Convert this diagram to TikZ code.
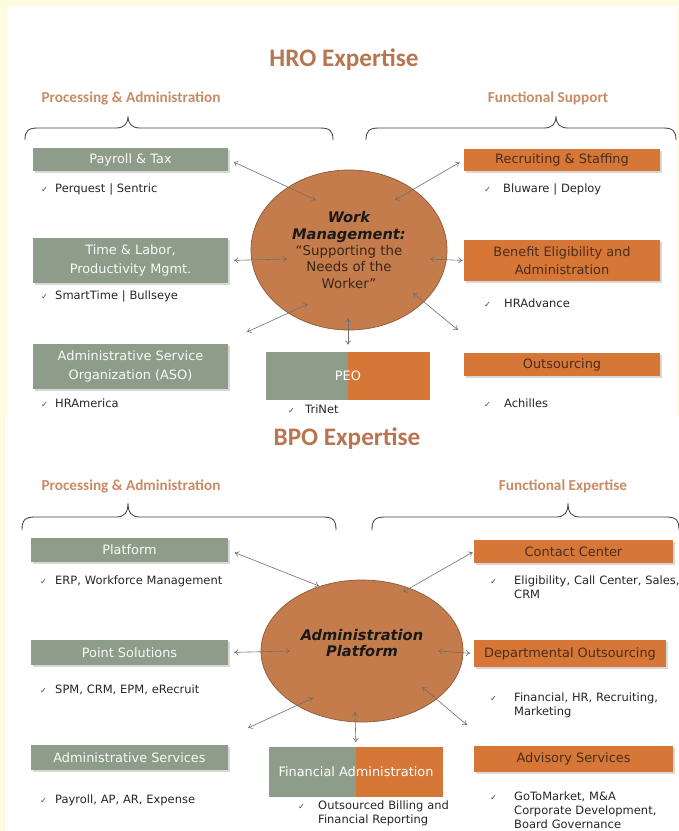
\documentclass[tikz,border=0pt]{standalone}
\usepackage{fontspec}
\setmainfont{DejaVu Sans}
\newfontfamily\headfont{Carlito}
\usetikzlibrary{shapes.geometric,shadows,arrows.meta}

\definecolor{paper}{HTML}{FFFBE0}
\definecolor{sage}{HTML}{8E9C8A}
\definecolor{rust}{HTML}{D67637}
\definecolor{clay}{HTML}{C47C4C}
\definecolor{clayline}{HTML}{8C5A3A}
\definecolor{headbrown}{HTML}{B87650}
\definecolor{subbrown}{HTML}{C88C64}
\definecolor{darkbrown}{HTML}{4A2E1C}
\definecolor{linkgray}{HTML}{6E6E6E}

% tick mark, a ticked entry (width of the tick column, text) and the indent of its next lines
\newcommand{\ck}{{\fontsize{7}{8}\selectfont\color{black!70}✓}}
\newcommand{\tk}[2]{\makebox[#1][l]{\ck}#2}
\newcommand{\tkpad}[1]{\hspace*{#1}}
\newcommand{\hubbold}{\fontsize{12.5}{14}\selectfont\bfseries\itshape\color{black!90}}

\begin{document}
\begin{tikzpicture}[x=0.03cm,y=-0.03cm,
    leftbox/.style={rectangle,inner sep=0pt,align=center,font=\fontsize{11}{15.5}\selectfont,
      fill=sage,text=white!94!sage,drop shadow={shadow xshift=1.6pt,shadow yshift=-1.6pt,opacity=0.3}},
    rightbox/.style={leftbox,fill=rust,text=darkbrown},
    splitbox/.style={rectangle,inner sep=0pt,align=center,font=\fontsize{11}{15.5}\selectfont,text=white,
      path picture={\fill[sage] (path picture bounding box.south west) rectangle (path picture bounding box.north);
        \fill[rust] (path picture bounding box.north) rectangle (path picture bounding box.south east);}},
    hub/.style={ellipse,inner sep=0pt,fill=clay,draw=clayline,line width=0.6pt,align=center,
      font=\fontsize{11.4}{14}\selectfont,text=darkbrown!80!black},
    tickitem/.style={anchor=base west,inner sep=0pt,text width=6cm,align=left,
      font=\fontsize{9.8}{12.3}\selectfont,text=black!85},
    headtitle/.style={font=\headfont\bfseries\fontsize{21.5}{24}\selectfont,text=headbrown},
    subhead/.style={font=\headfont\bfseries\fontsize{13}{15}\selectfont,text=subbrown},
    curly/.style={draw=black!75,line width=0.7pt},
    twoway/.style={draw=linkgray,line width=0.5pt,{To[length=3.5pt,width=5pt]}-{To[length=3.5pt,width=5pt]}}]

\useasboundingbox (0,0) rectangle (679,831);
\fill[paper] (0,0) rectangle (679,831);
\fill[white] (7,6) rectangle (677,416);
\fill[white] (5,416) rectangle (679,831);

%%%% HRO part
\node[headtitle] (hro) at (344,60) {HRO Expertise};
\node[subhead] (hroProc) at (131,98) {Processing \& Administration};
\node[subhead] (hroFunc) at (548,98) {Functional Support};

\draw[curly] (25,140) .. controls (25,131) and (28,128) .. (38,128) -- (116,128)
  .. controls (124,128) and (128,124) .. (128,116) .. controls (128,124) and (132,128) .. (140,128)
  -- (320,128) .. controls (330,128) and (333,131) .. (333,140);
\draw[curly] (366,140) .. controls (366,131) and (369,128) .. (379,128) -- (544,128)
  .. controls (552,128) and (556,124) .. (556,116) .. controls (556,124) and (560,128) .. (568,128)
  -- (663,128) .. controls (673,128) and (676,131) .. (676,140);

\node[hub,minimum width=5.88cm,minimum height=4.8cm] (wm) at (349,250)
  {{\hubbold Work}\\{\hubbold Management:}\\“Supporting the\\Needs of the\\Worker”};

\node[leftbox,minimum width=5.85cm,minimum height=0.69cm] (pay) at (130.5,159.5) {Payroll \& Tax};
\node[leftbox,minimum width=5.85cm,minimum height=1.35cm] (tl) at (130.5,260.5) {Time \& Labor,\\Productivity Mgmt.};
\node[leftbox,minimum width=5.85cm,minimum height=1.35cm] (aso) at (130.5,366.5) {Administrative Service\\Organization (ASO)};
\node[rightbox,minimum width=5.88cm,minimum height=0.66cm] (rec) at (562,160) {Recruiting \& Staffing};
\node[rightbox,minimum width=5.88cm,minimum height=1.23cm] (ben) at (562,260.5) {Benefit Eligibility and\\Administration};
\node[rightbox,minimum width=5.88cm,minimum height=0.69cm] (outs) at (562,364.5) {Outsourcing};
\node[splitbox,minimum width=4.92cm,minimum height=1.44cm] (peo) at (348,376) {PEO};

\node[tickitem] (payList) at (41,192) {\tk{0.42cm}{Perquest | Sentric}};
\node[tickitem] (tlList) at (41,299) {\tk{0.42cm}{SmartTime | Bullseye}};
\node[tickitem] (asoList) at (41,407) {\tk{0.42cm}{HRAmerica}};
\node[tickitem] (peoList) at (288,413) {\tk{0.51cm}{TriNet}};
\node[tickitem] (recList) at (484,192) {\tk{0.57cm}{Bluware | Deploy}};
\node[tickitem] (benList) at (484,307) {\tk{0.6cm}{HRAdvance}};
\node[tickitem] (outsList) at (484,407) {\tk{0.6cm}{Achilles}};

\coordinate (wmA) at (316,200);
\coordinate (wmB) at (395,200);
\coordinate (wmC) at (287,259);
\coordinate (wmD) at (430,259);
\coordinate (wmE) at (308,304);
\coordinate (wmEout) at (247,332);
\coordinate (wmF) at (348,318);
\coordinate (wmG) at (413,293);
\coordinate (wmGout) at (458,330);

\draw[twoway,shorten <=5pt] (pay.east) -- (wmA);
\draw[twoway,shorten <=4pt] (rec.west) -- (wmB);
\draw[twoway,shorten <=5pt] (tl.east) -- (wmC);
\draw[twoway,shorten <=1pt] (ben.west) -- (wmD);
\draw[twoway] (wmE) -- (wmEout);
\draw[twoway,shorten <=6pt] (peo.north) -- (wmF);
\draw[twoway] (wmG) -- (wmGout);

%%%% BPO part
\node[headtitle] (bpo) at (347,439) {BPO Expertise};
\node[subhead] (bpoProc) at (131,486) {Processing \& Administration};
\node[subhead] (bpoFunc) at (563,486) {Functional Expertise};

\draw[curly] (22,530) .. controls (22,520) and (25,517) .. (35,517) -- (116,517)
  .. controls (124,517) and (128,513) .. (128,503) .. controls (128,513) and (132,517) .. (140,517)
  -- (323,517) .. controls (333,517) and (336,520) .. (336,530);
\draw[curly] (372,530) .. controls (372,520) and (375,517) .. (385,517) -- (556,517)
  .. controls (564,517) and (568,513) .. (568,503) .. controls (568,513) and (572,517) .. (580,517)
  -- (666,517) .. controls (676,517) and (679,520) .. (679,530);

\node[hub,minimum width=6.06cm,minimum height=4.26cm] (ap) at (362,651) {};
\node[font=\hubbold,align=center,inner sep=0pt] (apText) at (362,643) {Administration\\Platform};

\node[leftbox,minimum width=5.91cm,minimum height=0.72cm] (plat) at (129.5,550) {Platform};
\node[leftbox,minimum width=5.91cm,minimum height=0.75cm] (ps) at (129.5,652.5) {Point Solutions};
\node[leftbox,minimum width=5.91cm,minimum height=0.75cm] (admsrv) at (129.5,757.5) {Administrative Services};
\node[rightbox,minimum width=5.97cm,minimum height=0.69cm] (cc) at (573.5,551.5) {Contact Center};
\node[rightbox,minimum width=5.76cm,minimum height=0.81cm] (dep) at (570,653.5) {Departmental Outsourcing};
\node[rightbox,minimum width=5.97cm,minimum height=0.78cm] (adv) at (573.5,759) {Advisory Services};
\node[splitbox,minimum width=5.22cm,minimum height=1.5cm] (fa) at (356,772) {Financial Administration};

\node[tickitem] (platList) at (40,584) {\tk{0.45cm}{ERP, Workforce Management}};
\node[tickitem] (psList) at (40,693) {\tk{0.45cm}{SPM, CRM, EPM, eRecruit}};
\node[tickitem] (admsrvList) at (40,803) {\tk{0.45cm}{Payroll, AP, AR, Expense}};
\node[tickitem] (faList) at (298,809) {\tk{0.6cm}{Outsourced Billing and}\\\tkpad{0.6cm}Financial Reporting};
\node[tickitem] (ccList) at (490,584) {\tk{0.72cm}{Eligibility, Call Center, Sales,}\\\tkpad{0.72cm}CRM};
\node[tickitem] (depList) at (490,701) {\tk{0.72cm}{Financial, HR, Recruiting,}\\\tkpad{0.72cm}Marketing};
\node[tickitem,font=\fontsize{9.8}{12}\selectfont] (advList) at (490,800) {\tk{0.72cm}{GoToMarket, M\&A}\\\tkpad{0.72cm}Corporate Development,\\\tkpad{0.72cm}Board Governance};

\coordinate (apA) at (319,586);
\coordinate (apB) at (403,592);
\coordinate (apC) at (290,651);
\coordinate (apD) at (438,651);
\coordinate (apE) at (313,698);
\coordinate (apEout) at (248,728);
\coordinate (apF) at (355,712);
\coordinate (apG) at (422,687);
\coordinate (apGout) at (467,725);

\draw[twoway,shorten <=6pt] (plat.east) -- (apA);
\draw[twoway,shorten <=1pt] (cc.west) -- (apB);
\draw[twoway,shorten <=5pt] (ps.east) -- (apC);
\draw[twoway,shorten <=3pt] (dep.west) -- (apD);
\draw[twoway] (apE) -- (apEout);
\draw[twoway,shorten <=4pt] (fa.north) -- (apF);
\draw[twoway] (apG) -- (apGout);

\end{tikzpicture}
\end{document}
